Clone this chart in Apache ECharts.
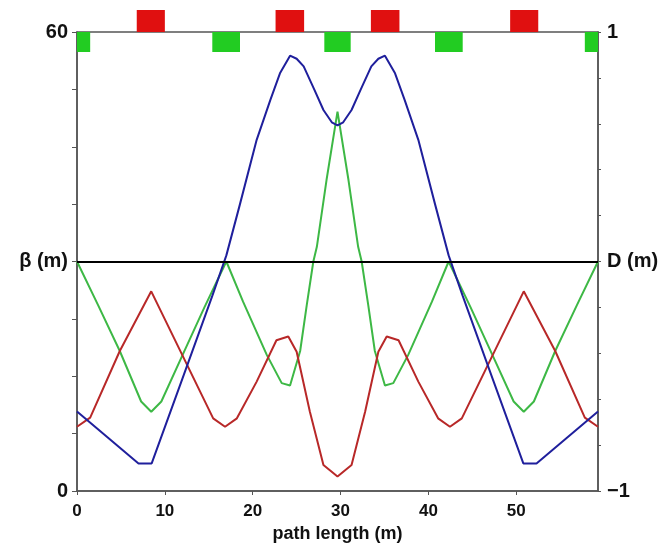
<!DOCTYPE html>
<html>
<head>
<meta charset="utf-8">
<script src="https://cdn.jsdelivr.net/npm/echarts@6/dist/echarts.min.js"></script>
<style>
html,body{margin:0;padding:0;background:#fff;}
#chart{width:661px;height:545px;}
</style>
</head>
<body>
<div id="chart"></div>
<script>
// path length period (m)
var sMax = 59.3;
var xTicks = [0, 10, 20, 30, 40, 50];

// horizontal beta function [s (m), beta (m)]
var betaX = [[0,10.4],[3.5,7.0],[7.0,3.6],[8.5,3.6],[12.0,14.7],[15.4,25.5],[17.0,30.8],[18.55,37.5],[20.45,45.9],[22.0,51.1],[23.1,54.6],[24.25,56.9],[25.0,56.5],[25.8,55.5],[27.0,52.5],[28.05,49.8],[29.0,48.2],[29.65,47.8],[30.3,48.2],[31.25,49.8],[32.3,52.5],[33.5,55.5],[34.3,56.5],[35.05,56.9],[36.2,54.6],[37.3,51.1],[38.85,45.9],[40.75,37.5],[42.3,30.8],[43.9,25.5],[47.3,14.7],[50.8,3.6],[52.3,3.6],[55.8,7.0],[59.3,10.4]];

// vertical beta function [s (m), beta (m)]
var betaY = [[0,8.4],[1.5,9.6],[4.87,18.3],[8.45,26.1],[15.5,9.5],[16.85,8.4],[18.2,9.5],[20.45,14.3],[22.7,19.7],[24.05,20.2],[25.0,18.2],[26.5,10.4],[28.05,3.4],[29.65,1.9],[31.25,3.4],[32.8,10.4],[34.3,18.2],[35.25,20.2],[36.6,19.7],[38.85,14.3],[41.1,9.5],[42.45,8.4],[43.8,9.5],[50.85,26.1],[54.43,18.3],[57.8,9.6],[59.3,8.4]];

// dispersion [s (m), D (m)]
var disp = [[0,0],[2.4,-0.19],[4.87,-0.39],[7.3,-0.61],[8.45,-0.655],[9.6,-0.61],[12.1,-0.40],[14.5,-0.2],[17.0,0],[18.9,-0.175],[21.6,-0.407],[23.3,-0.53],[24.25,-0.54],[25.4,-0.39],[26.15,-0.19],[26.9,0],[27.3,0.064],[28.4,0.355],[29.65,0.653],[30.9,0.355],[32.0,0.064],[32.4,0],[33.15,-0.19],[33.9,-0.39],[35.05,-0.54],[36.0,-0.53],[37.7,-0.407],[40.4,-0.175],[42.3,0],[44.8,-0.2],[47.2,-0.40],[49.7,-0.61],[50.85,-0.655],[52.0,-0.61],[54.43,-0.39],[56.9,-0.19],[59.3,0]];

// magnet positions [start, end] (m)
var dipoles = [[6.8,10.0],[22.6,25.85],[33.45,36.7],[49.3,52.5]];
var quads = [[0,1.5],[15.4,18.55],[28.15,31.15],[40.75,43.9],[57.8,59.3]];

var FONT = '"Liberation Sans",Arial,sans-serif';

function magnetSeries(data, color, above) {
  return {
    type: 'custom',
    xAxisIndex: 0, yAxisIndex: 0,
    clip: false, silent: true, z: 5,
    data: data,
    renderItem: function (params, api) {
      var p0 = api.coord([api.value(0), 60]);
      var p1 = api.coord([api.value(1), 60]);
      var h = above ? 22 : 20;
      var y = above ? p0[1] - h : p0[1];
      return { type: 'rect', shape: { x: p0[0], y: y, width: p1[0] - p0[0], height: h }, style: { fill: color } };
    }
  };
}

var chart = echarts.init(document.getElementById('chart'), null, { renderer: 'canvas' });
chart.setOption({
  animation: false,
  backgroundColor: '#fff',
  grid: { left: 77, right: 63, top: 32, bottom: 54, outerBoundsMode: 'none', containLabel: false, show: true, borderColor: '#555', borderWidth: 1.5, backgroundColor: 'transparent' },
  xAxis: {
    type: 'value', min: 0, max: sMax, interval: 10,
    name: 'path length (m)', nameLocation: 'middle', nameGap: 31,
    nameTextStyle: { fontFamily: FONT, fontWeight: 'bold', fontSize: 18, color: '#111' },
    axisLine: { show: true, lineStyle: { color: '#555', width: 1.5 } },
    axisTick: { show: true, inside: false, length: 4, lineStyle: { color: '#555' },
      customValues: xTicks },
    axisLabel: { fontFamily: FONT, fontWeight: 'bold', fontSize: 17, color: '#111', margin: 12,
      customValues: xTicks,
      formatter: function (v) { return String(Math.round(v)); } },
    splitLine: { show: false }
  },
  yAxis: [
    {
      type: 'value', min: 0, max: 60, interval: 7.5, position: 'left',
      axisLine: { show: true, lineStyle: { color: '#555', width: 1.5 } },
      axisTick: { show: true, inside: false, length: 5, lineStyle: { color: '#555' } },
      axisLabel: { fontFamily: FONT, fontWeight: 'bold', fontSize: 20, color: '#111', margin: 9,
        formatter: function (v) { if (v === 0) return '0'; if (v === 60) return '60'; if (v === 30) return 'β (m)'; return ''; } },
      splitLine: { show: false }
    },
    {
      type: 'value', min: -1, max: 1, interval: 0.2, position: 'right',
      axisLine: { show: true, lineStyle: { color: '#555', width: 1.5 } },
      axisTick: { show: true, inside: false, length: 3, lineStyle: { color: '#555' } },
      axisLabel: { fontFamily: FONT, fontWeight: 'bold', fontSize: 20, color: '#111', margin: 9,
        formatter: function (v) { if (Math.abs(v - 1) < 1e-6) return '1'; if (Math.abs(v + 1) < 1e-6) return '−1'; if (Math.abs(v) < 1e-6) return 'D (m)'; return ''; } },
      splitLine: { show: false }
    }
  ],
  series: [
    {
      type: 'line', name: 'D', yAxisIndex: 1, data: disp, showSymbol: false, symbol: 'none',
      lineStyle: { color: '#3db845', width: 2 }, z: 2,
      markLine: { silent: true, symbol: 'none', label: { show: false },
        lineStyle: { color: '#000', width: 2, type: 'solid' },
        data: [{ yAxis: 0 }] }
    },
    {
      type: 'line', name: 'betaY', yAxisIndex: 0, data: betaY, showSymbol: false, symbol: 'none',
      lineStyle: { color: '#b82828', width: 2 }, z: 3
    },
    {
      type: 'line', name: 'betaX', yAxisIndex: 0, data: betaX, showSymbol: false, symbol: 'none',
      lineStyle: { color: '#1f1f9c', width: 2 }, z: 4
    },
    magnetSeries(dipoles, '#e01010', true),
    magnetSeries(quads, '#22cc22', false)
  ]
});
</script>
</body>
</html>
